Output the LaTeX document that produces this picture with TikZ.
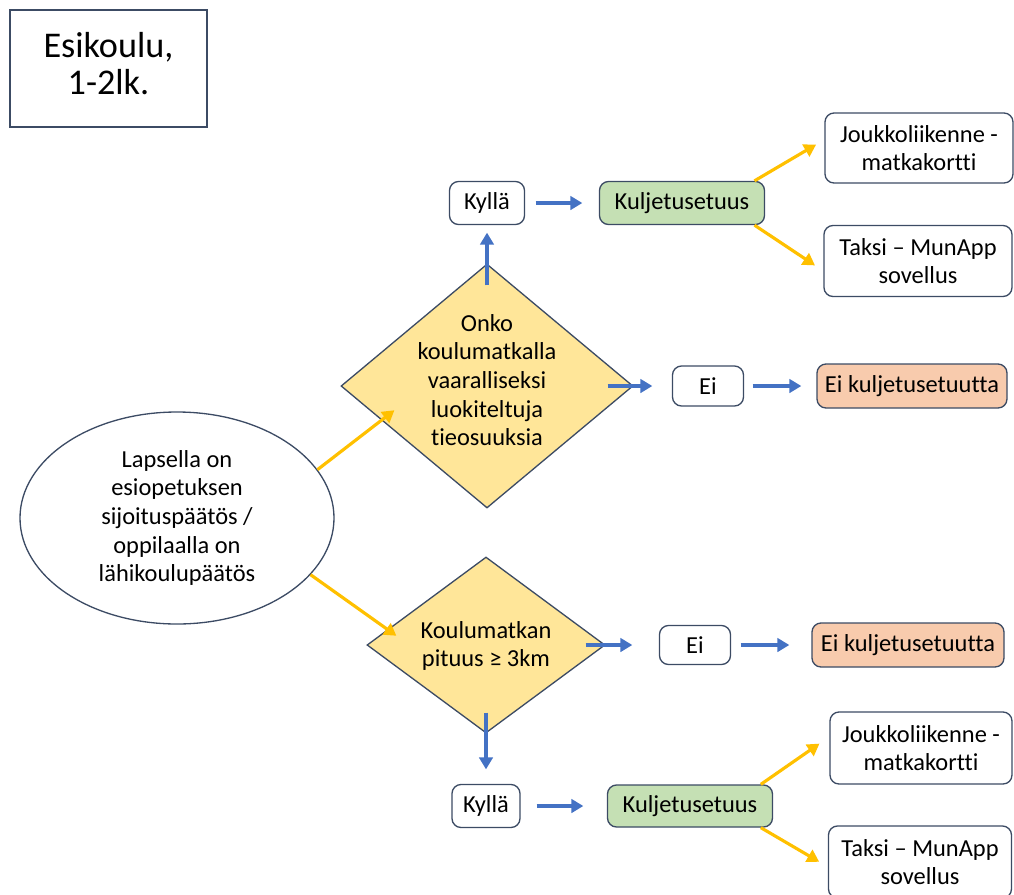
\documentclass[tikz,border=0pt]{standalone}
\usepackage{fontspec}
\setmainfont[Ligatures=NoCommon]{Carlito}
\usetikzlibrary{shapes.geometric,arrows.meta}
\definecolor{edgec}{RGB}{60,75,100}
\definecolor{bluearr}{RGB}{68,114,196}
\definecolor{goldarr}{RGB}{255,192,0}
\definecolor{diafill}{RGB}{255,230,153}
\definecolor{greenfill}{RGB}{197,224,180}
\definecolor{salmonfill}{RGB}{248,203,173}
\newcommand{\txt}{\fontsize{13.9}{16.3}\selectfont}
\tikzset{
 rbox/.style={draw=edgec, line width=0.75pt, rounded corners=1.8mm, fill=white, align=center, font=\txt, inner sep=0pt},
 diam/.style={draw=edgec, line width=0.75pt, diamond, fill=diafill, inner sep=0pt},
 barrow/.style={draw=bluearr, line width=1.8pt, -{Triangle[length=2.4mm,width=2.7mm]}},
 yarrow/.style={draw=goldarr, line width=1.8pt, -{Triangle[length=2.4mm,width=2.7mm]}},
}
\begin{document}
\begin{tikzpicture}[x=0.2mm,y=-0.2mm]
\useasboundingbox (0,0) rectangle (1014,894);

\node[draw=edgec, line width=0.9pt, minimum width=39.4mm, minimum height=23.4mm] (otsikko) at (108.5,68.5) {};
\node[align=center, font=\fontsize{20.6}{21}\selectfont] (otsikkot) at (108.5,63.5) {Esikoulu,\\1-2lk.};

\node[ellipse, draw=edgec, line width=0.75pt, minimum width=62.8mm, minimum height=42.4mm, inner sep=0pt, align=center, font=\txt] (lapsi) at (177,518) {Lapsella on\\esiopetuksen\\sijoituspäätös /\\oppilaalla on\\lähikoulupäätös};

% upper branch
\node[diam, minimum width=58.4mm, minimum height=48.8mm] (vaara) at (487,386) {};
\node[font=\txt, align=center] (vaarat) at (487,380) {Onko\\koulumatkalla\\vaaralliseksi\\luokiteltuja\\tieosuuksia};

\node[rbox, minimum width=15mm, minimum height=8.6mm] (kylla1) at (487,203) {Kyllä};
\node[rbox, fill=greenfill, minimum width=33mm, minimum height=8.6mm] (kulj1) at (682,203) {Kuljetusetuus};
\node[rbox, minimum width=37.6mm, minimum height=14mm] (jouk1) at (919,148) {Joukkoliikenne -\\matkakortti};
\node[rbox, minimum width=37.6mm, minimum height=14.2mm] (taksi1) at (918,261) {Taksi -- MunApp\\sovellus};
\node[rbox, minimum width=14.2mm, minimum height=8mm] (ei1) at (708,386) {Ei};
\node[rbox, fill=salmonfill, minimum width=38mm, minimum height=8.8mm] (eik1) at (912,386) {Ei kuljetusetuutta};

% lower branch
\node[diam, minimum width=47.6mm, minimum height=35.2mm] (matka) at (486,645) {};
\node[font=\txt, align=center] (matkat) at (486,646) {Koulumatkan\\pituus ≥ 3km};

\node[rbox, minimum width=14.2mm, minimum height=7.8mm] (ei2) at (695,645) {Ei};
\node[rbox, fill=salmonfill, minimum width=38.4mm, minimum height=8.8mm] (eik2) at (908,645) {Ei kuljetusetuutta};
\node[rbox, minimum width=13.6mm, minimum height=8.6mm] (kylla2) at (486,806) {Kyllä};
\node[rbox, fill=greenfill, minimum width=33mm, minimum height=8.4mm] (kulj2) at (690,806) {Kuljetusetuus};
\node[rbox, minimum width=36.4mm, minimum height=14.4mm] (jouk2) at (921,748) {Joukkoliikenne -\\matkakortti};
\node[rbox, minimum width=36.6mm, minimum height=14.4mm] (taksi2) at (920,862) {Taksi -- MunApp\\sovellus};

% arrows
\draw[yarrow, shorten >=-3.3mm] (lapsi.19) -- (vaara.198);
\draw[yarrow, shorten >=-2.2mm] (lapsi.337) -- (matka.171);

\draw[barrow, shorten <=-4.4mm, shorten >=1.5mm] (vaara.north) -- (vaara.north |- kylla1.south);
\draw[barrow, shorten <=2.1mm, shorten >=3.3mm] (kylla1.east) -- (kulj1.west);
\draw[yarrow, shorten >=1.9mm] (kulj1.17) -- (jouk1.175);
\draw[yarrow, shorten >=2mm] (kulj1.343) -- (taksi1.186);
\draw[barrow, shorten <=-5.2mm, shorten >=3.9mm] (vaara.east) -- (vaara.east -| ei1.west);
\draw[barrow, shorten <=1.7mm, shorten >=3mm] (ei1.east) -- (eik1.west);

\draw[barrow, shorten <=-4mm, shorten >=5.3mm] (matka.east) -- (matka.east -| ei2.west);
\draw[barrow, shorten <=1.9mm, shorten >=4.4mm] (ei2.east) -- (eik2.west);
\draw[barrow, shorten <=-4.2mm, shorten >=2.9mm] (matka.south) -- (matka.south |- kylla2.north);
\draw[barrow, shorten <=3.2mm, shorten >=4.7mm] (kylla2.east) -- (kulj2.west);
\draw[yarrow, shorten >=2.4mm] (kulj2.17) -- (jouk2.173);
\draw[yarrow, shorten >=2mm] (kulj2.343) -- (taksi2.183);

\end{tikzpicture}
\end{document}
